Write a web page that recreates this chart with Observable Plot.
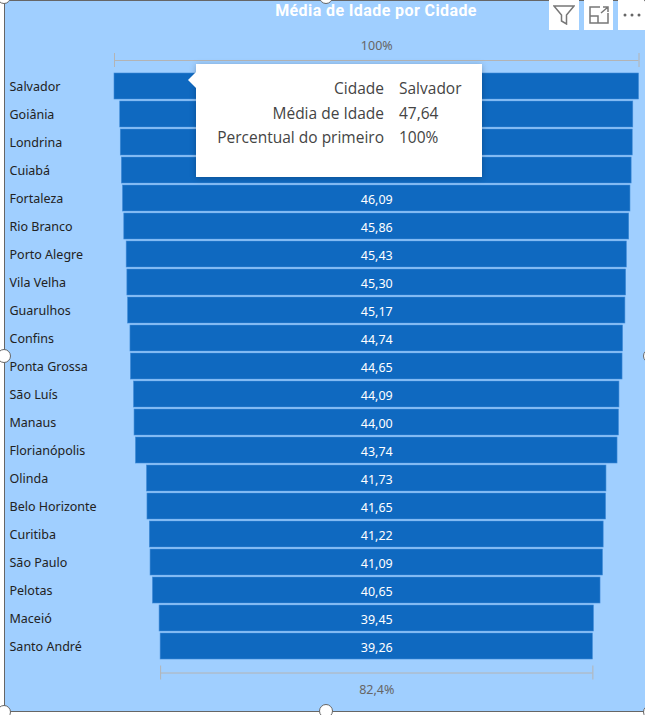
<!DOCTYPE html>
<html><head><meta charset="utf-8">
<script src="https://cdn.jsdelivr.net/npm/d3@7"></script>
<script src="https://cdn.jsdelivr.net/npm/@observablehq/plot@0.6"></script>
<style>
html,body{margin:0;padding:0;background:#fff;overflow:hidden}
#wrap{position:relative;width:645px;height:715px;overflow:hidden;font-family:"Open Sans",sans-serif}
#panel{position:absolute;left:4px;top:0;width:645px;height:712px;background:#a0cfff;border:1px solid #666;border-width:1px;box-sizing:border-box}
#chart{position:absolute;left:0;top:0}
#title{position:absolute;left:114px;width:524px;top:1px;text-align:center;color:#fff;font:bold 16px Roboto,sans-serif;letter-spacing:.4px}
.btn{position:absolute;top:0;height:30px;background:#fff;display:flex;align-items:center;justify-content:center}
#tip{position:absolute;left:196px;top:64px;width:286px;height:113px;background:#fff;box-shadow:0 1px 6px rgba(0,0,0,.25);color:#444;font-size:15.5px}
#tip .a{position:absolute;right:98px;white-space:nowrap}
#tip .b{position:absolute;left:203px;white-space:nowrap}
#ptr{position:absolute;left:188px;top:72px;width:0;height:0;border:8px solid transparent;border-left:0;border-right-color:#fff}
.h{position:absolute;width:14px;height:14px;margin:-7px;border-radius:50%;background:#fff;border:1px solid #666;box-sizing:border-box}
</style></head><body>
<div id="wrap"><div id="panel"></div><div id="chart"></div>
<div id="title"></div><div id="tip"></div><div id="ptr"></div></div>
<script>
const cidades=["Salvador","Goiânia","Londrina","Cuiabá","Fortaleza","Rio Branco","Porto Alegre","Vila Velha","Guarulhos","Confins","Ponta Grossa","São Luís","Manaus","Florianópolis","Olinda","Belo Horizonte","Curitiba","São Paulo","Pelotas","Maceió","Santo André"];
const medias=[47.64,46.6,46.5,46.3,46.09,45.86,45.43,45.30,45.17,44.74,44.65,44.09,44.00,43.74,41.73,41.65,41.22,41.09,40.65,39.45,39.26];
const tituloTexto="Média de Idade por Cidade";
const topoRotulo="100%", baseRotulo="82,4%";
const dicaRotulos=["Cidade","Média de Idade","Percentual do primeiro"];
const dicaValores=["Salvador","47,64","100%"];
const ocultas=new Set(["Salvador","Goiânia","Londrina","Cuiabá"]);
const fmt=v=>v.toFixed(2).replace(".",",");
const dados=cidades.map((c,i)=>({c,v:medias[i]}));
const primeiro=dados[0], ultimo=dados[dados.length-1];
const cor="#0f69c0", regua="#b4b4b4";

const plot=Plot.plot({
  width:645,height:715,margin:0,
  style:{background:"transparent",overflow:"visible"},
  x:{domain:[-primeiro.v/2,primeiro.v/2],range:[114,638.5],axis:null},
  y:{domain:cidades,range:[62.6,668.6],padding:0.08,axis:null},
  marks:[
    Plot.barX(dados,{x1:d=>-d.v/2,x2:d=>d.v/2,y:"c",fill:cor,stroke:"#3f8ad6",strokeWidth:0.6}),
    Plot.text(dados.filter(d=>!ocultas.has(d.c)),{x:()=>0,y:"c",text:d=>fmt(d.v),fill:"#fff",fontSize:12.5,dy:1}),
    Plot.text(dados,{y:"c",text:"c",frameAnchor:"left",dx:9,textAnchor:"start",fill:"#222",fontSize:12.5}),
    // régua superior
    Plot.ruleY([primeiro],{x1:d=>-d.v/2,x2:d=>d.v/2,y:"c",dy:-26,stroke:regua}),
    Plot.tickX([-primeiro.v/2,primeiro.v/2],{x:d=>d,y:()=>primeiro.c,dy:-26,stroke:regua,insetTop:6,insetBottom:6}),
    Plot.text([topoRotulo],{x:()=>0,y:()=>primeiro.c,text:d=>d,dy:-41,fill:"#666",fontSize:12.5}),
    // régua inferior
    Plot.ruleY([ultimo],{x1:d=>-d.v/2,x2:d=>d.v/2,y:"c",dy:26.5,stroke:regua}),
    Plot.tickX([-ultimo.v/2,ultimo.v/2],{x:d=>d,y:()=>ultimo.c,dy:26.5,stroke:regua,insetTop:6,insetBottom:6}),
    Plot.text([baseRotulo],{x:()=>0,y:()=>ultimo.c,text:d=>d,dy:43,fill:"#666",fontSize:12.5})
  ]
});
document.getElementById("chart").append(plot);
document.getElementById("title").textContent=tituloTexto;

const tip=document.getElementById("tip");
dicaRotulos.forEach((r,i)=>{
  const t=[24,48.5,72.5][i];
  const a=document.createElement("div");a.className="a";a.style.top=(t-11)+"px";a.textContent=r;tip.append(a);
  const b=document.createElement("div");b.className="b";b.style.top=(t-11)+"px";b.textContent=dicaValores[i];tip.append(b);
});

const wrap=document.getElementById("wrap");
[[549,30,`<svg width="22" height="20" viewBox="0 0 22 20" fill="none" stroke="#777" stroke-width="1.5"><path d="M1 1H21L13.5 10V19L8.5 16V10Z"/></svg>`],
 [584,29,`<svg width="20" height="18" viewBox="0 0 20 18" fill="none" stroke="#777" stroke-width="1.5"><path d="M11 1H1V17H19V7M1 10H9V17M12 7L19 1M14 1H19V6"/></svg>`],
 [618,27,`<svg width="20" height="6" viewBox="0 0 20 6" fill="#666"><circle cx="3" cy="3" r="1.5"/><circle cx="10" cy="3" r="1.5"/><circle cx="17" cy="3" r="1.5"/></svg>`]
].forEach(([l,w,s])=>{const d=document.createElement("div");d.className="btn";d.style.left=l+"px";d.style.width=w+"px";d.innerHTML=s;wrap.append(d);});
[[4,-3],[326,-3],[650,-3],[4,356],[650,356],[4,712],[326,711],[650,712]].forEach(([x,y])=>{
  const h=document.createElement("div");h.className="h";h.style.left=x+"px";h.style.top=y+"px";wrap.append(h);
});
</script></body></html>
